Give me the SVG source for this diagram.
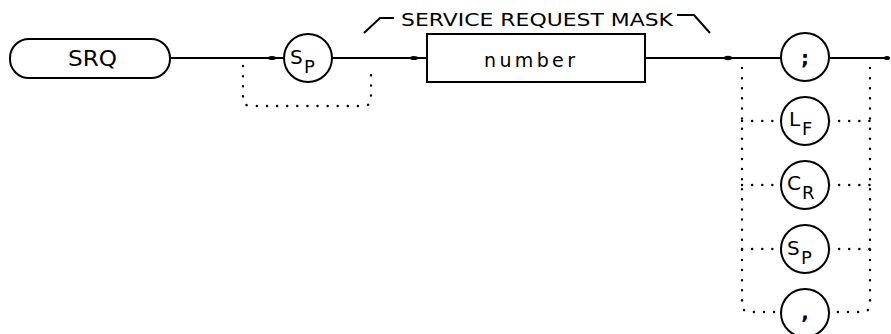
<svg xmlns="http://www.w3.org/2000/svg" width="891" height="334" viewBox="0 0 891 334">
<defs>
<style>
.ln{fill:none;stroke:#000;stroke-width:2}
.dot{fill:none;stroke:#000;stroke-width:2.4;stroke-dasharray:0.1 10;stroke-linecap:round}
.shape{fill:#fff;stroke:#000;stroke-width:2}
.t{font-family:"DejaVu Sans","Liberation Sans",sans-serif;fill:#000}
.j{fill:#000}
</style>
</defs>
<rect width="891" height="334" fill="#fff"/>
<g id="connectors">
<path class="ln" d="M170 58 H284"/>
<path class="ln" d="M332 58 H427"/>
<path class="ln" d="M645 58 H781"/>
<path class="ln" d="M829 58 H888"/>
<path class="dot" d="M243 66 V98 Q243 106 251 106 H363 Q371 106 371 98 V66"/>
<path class="dot" d="M742 68 V304 Q742 312 750 312 H781"/>
<path class="dot" d="M870 68 V304 Q870 312 862 312 H829"/>
<path class="dot" d="M742 121 H781 M829 121 H870"/>
<path class="dot" d="M742 185 H781 M829 185 H870"/>
<path class="dot" d="M742 249 H781 M829 249 H870"/>
<ellipse class="j" cx="272" cy="58" rx="4" ry="2"/>
<ellipse class="j" cx="414" cy="58" rx="4" ry="2"/>
<ellipse class="j" cx="728" cy="58" rx="4" ry="2.2"/>
<ellipse class="j" cx="887" cy="58" rx="3" ry="2"/>
</g>
<g id="label-mask">
<path class="ln" d="M364 33 L380 18 H394"/>
<text class="t" x="401" y="25.5" font-size="17.5" textLength="272" lengthAdjust="spacingAndGlyphs">SERVICE REQUEST MASK</text>
<path class="ln" d="M677 15 H694 L710 33"/>
</g>
<g id="node-srq">
<rect class="shape" x="10" y="39" width="160" height="39" rx="19"/>
<text class="t" x="68" y="66" font-size="22" textLength="49" lengthAdjust="spacingAndGlyphs">SRQ</text>
</g>
<g id="node-sp1">
<circle class="shape" cx="308" cy="58" r="24"/>
<text class="t" font-size="20"><tspan x="290" y="64">S</tspan><tspan x="304" y="73" font-size="18">P</tspan></text>
</g>
<g id="node-number">
<rect class="shape" x="427" y="34" width="218" height="48"/>
<text class="t" x="484" y="67" font-size="19" textLength="91" lengthAdjust="spacing">number</text>
</g>
<g id="node-semicolon">
<circle class="shape" cx="805" cy="57" r="24"/>
<text class="t" x="805" y="65" font-size="20" font-weight="bold" text-anchor="middle">;</text>
</g>
<g id="node-lf">
<circle class="shape" cx="805" cy="121" r="24"/>
<text class="t" font-size="20"><tspan x="789" y="126">L</tspan><tspan x="802" y="135" font-size="18">F</tspan></text>
</g>
<g id="node-cr">
<circle class="shape" cx="805" cy="185" r="24"/>
<text class="t" font-size="20"><tspan x="787" y="190">C</tspan><tspan x="802" y="199" font-size="18">R</tspan></text>
</g>
<g id="node-sp2">
<circle class="shape" cx="805" cy="249" r="24"/>
<text class="t" font-size="20"><tspan x="787" y="255">S</tspan><tspan x="801" y="264" font-size="18">P</tspan></text>
</g>
<g id="node-comma">
<circle class="shape" cx="805" cy="313" r="24"/>
<text class="t" x="805" y="319" font-size="20" font-weight="bold" text-anchor="middle">,</text>
</g>
</svg>
